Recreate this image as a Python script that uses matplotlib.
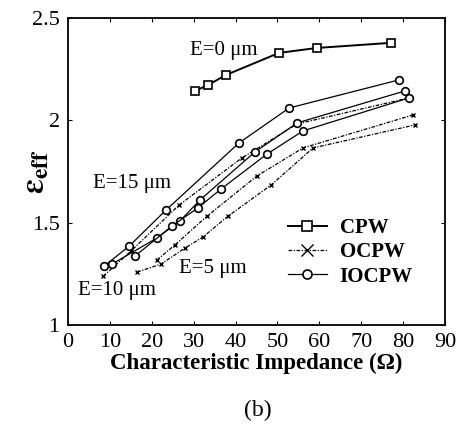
import numpy as np
import matplotlib
matplotlib.use("Agg")
import matplotlib.pyplot as plt

# ── Data ─────────────────────────────────────────────────────────────────────

cpw_z   = [30.3, 33.4, 37.7, 50.4, 59.4, 77.1]
cpw_eps = [2.143, 2.172, 2.221, 2.329, 2.353, 2.378]

# IOCPW curves (circles)
io_a_z   = [8.6, 14.6, 23.4, 40.8, 52.8, 79.0]
io_a_eps = [1.288, 1.386, 1.562, 1.889, 2.060, 2.197]
io_b_z   = [10.5, 21.2, 26.7, 31.5, 44.6, 54.7, 80.4]
io_b_eps = [1.298, 1.425, 1.508, 1.611, 1.845, 1.987, 2.143]
io_c_z   = [16.0, 24.8, 31.0, 36.5, 47.5, 56.1, 81.4]
io_c_eps = [1.337, 1.484, 1.572, 1.664, 1.835, 1.948, 2.109]

# OCPW curves (crosses)
oc_a_z   = [8.4, 15.0, 26.5, 41.5, 54.7, 81.4]
oc_a_eps = [1.239, 1.361, 1.586, 1.816, 1.982, 2.109]
oc_b_z   = [21.2, 25.5, 33.2, 45.1, 56.1, 82.4]
oc_b_eps = [1.318, 1.391, 1.532, 1.728, 1.865, 2.026]
oc_c_z   = [16.5, 22.2, 27.9, 32.2, 38.2, 48.5, 58.5, 82.8]
oc_c_eps = [1.259, 1.298, 1.376, 1.430, 1.532, 1.684, 1.865, 1.977]

x_ticks = [0, 10, 20, 30, 40, 50, 60, 70, 80, 90]
y_ticks = [1, 1.5, 2, 2.5]
y_tick_labels = ["1", "1.5", "2", "2.5"]

annotations = [
    ("E=0 μm", 29.0, 2.343),
    ("E=15 μm", 6.0, 1.689),
    ("E=10 μm", 2.4, 1.171),
    ("E=5 μm", 26.6, 1.278),
]

# ── Style ─────────────────────────────────────────────────────────────────────

plt.rcParams["font.family"] = ["Liberation Serif", "DejaVu Serif"]
plt.rcParams["mathtext.fontset"] = "stix"

CPW_STYLE   = dict(color="black", lw=1.4, ls="-", marker="s", ms=6,
                   mfc="white", mec="black", mew=1.2)
OCPW_STYLE  = dict(color="black", lw=0.9, ls=(0, (3, 1.2, 1, 1.2)), marker="x",
                   ms=3.5, mew=1.0)
IOCPW_STYLE = dict(color="black", lw=0.9, ls="-", marker="o", ms=5.5,
                   mfc="white", mec="black", mew=1.2)

fig = plt.figure(figsize=(4.63, 4.25), dpi=100)
ax = fig.add_axes([0.147, 0.235, 0.814, 0.723])

ax.plot(cpw_z, cpw_eps, label="CPW", zorder=5, **CPW_STYLE)
for z, e in [(oc_a_z, oc_a_eps), (oc_b_z, oc_b_eps), (oc_c_z, oc_c_eps)]:
    ax.plot(z, e, **OCPW_STYLE)
for z, e in [(io_a_z, io_a_eps), (io_b_z, io_b_eps), (io_c_z, io_c_eps)]:
    ax.plot(z, e, zorder=4, **IOCPW_STYLE)

# legend handles
ax.plot([], [], label="OCPW", **{**OCPW_STYLE, "ms": 8})
ax.plot([], [], label="IOCPW", **{**IOCPW_STYLE, "ms": 6.5})
h, l = ax.get_legend_handles_labels()
h[0] = ax.plot([], [], **{**CPW_STYLE, "ms": 7})[0]
ax.legend(h, l, loc="lower right", bbox_to_anchor=(0.948, 0.085), frameon=False,
          prop=dict(weight="bold", size=15), handlelength=1.9,
          handletextpad=0.6, labelspacing=0.2, borderaxespad=0.2)

for txt, x, y in annotations:
    ax.text(x, y, txt, fontsize=15, va="center", ha="left")

ax.set_xlim(0, 90)
ax.set_ylim(1, 2.5)
ax.set_xticks(x_ticks)
ax.set_yticks(y_ticks)
ax.set_yticklabels(y_tick_labels)
ax.tick_params(direction="in", length=3, width=0.8, labelsize=16,
               top=True, right=True, pad=6)
for sp in ax.spines.values():
    sp.set_linewidth(1.3)

ax.set_xlabel("Characteristic Impedance (Ω)", fontsize=16.5, fontweight="bold",
              labelpad=0)
ax.set_ylabel(r"$\mathbf{\varepsilon_{eff}}$", fontsize=24, labelpad=-14)
fig.text(0.557, 0.035, "(b)", fontsize=17, ha="center", va="center")

fig.savefig("out.png", dpi=100)
